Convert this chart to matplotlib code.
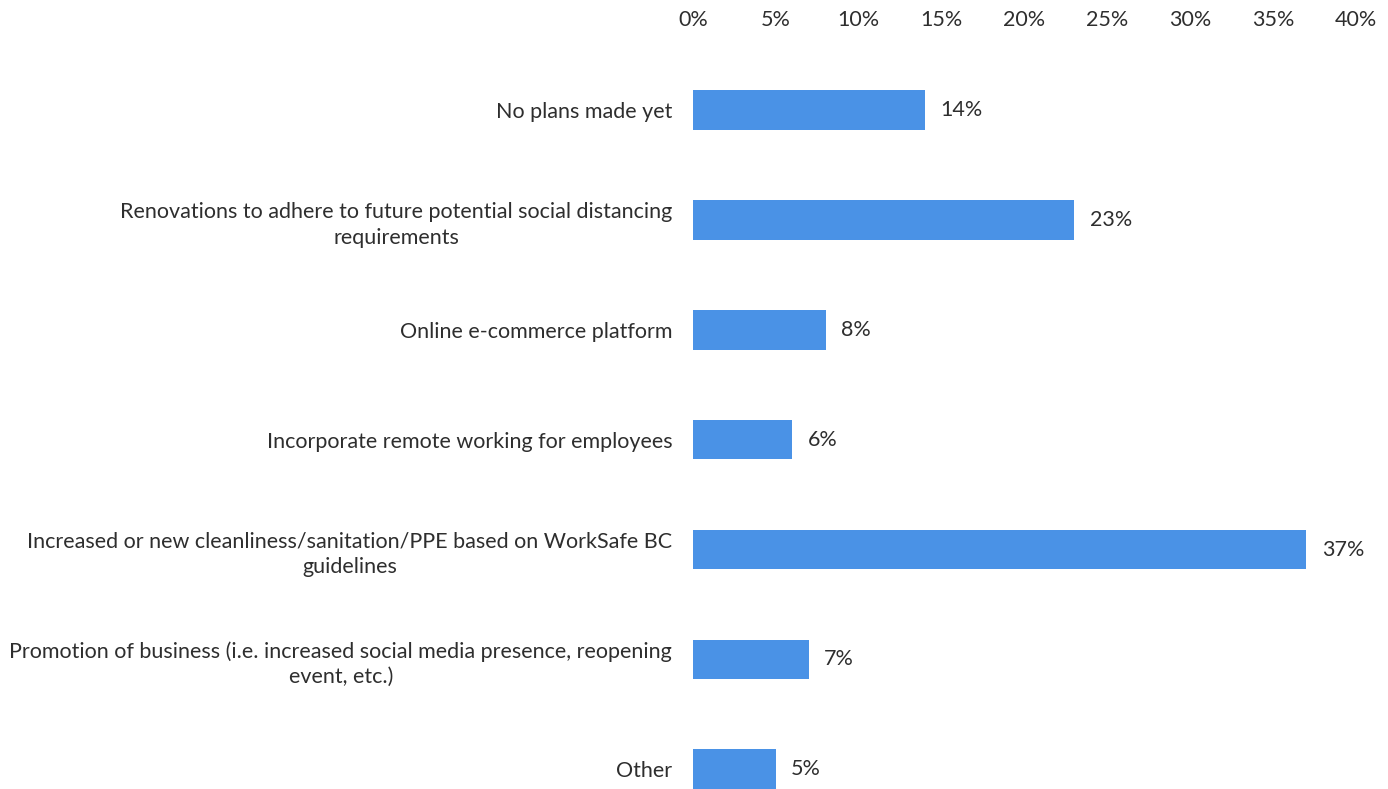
import matplotlib
matplotlib.use("Agg")
import matplotlib.pyplot as plt
from matplotlib.ticker import FuncFormatter, MultipleLocator

categories = [
    "No plans made yet",
    "Renovations to adhere to future potential social distancing\nrequirements",
    "Online e-commerce platform",
    "Incorporate remote working for employees",
    "Increased or new cleanliness/sanitation/PPE based on WorkSafe BC\nguidelines",
    "Promotion of business (i.e. increased social media presence, reopening\nevent, etc.)",
    "Other",
]
values = [14, 23, 8, 6, 37, 7, 5]

bar_color = "#4a92e6"
text_color = "#2e2e2e"
plt.rcParams["font.family"] = ["Lato", "DejaVu Sans"]
fs = 15.5

fig = plt.figure(figsize=(13.88, 7.89), dpi=100)
ax = fig.add_axes([0.4993, 0.0, 0.4777, 0.930])

ypos = list(range(len(categories)))
ax.barh(ypos, values, height=0.36, color=bar_color)

for y, v in zip(ypos, values):
    ax.annotate(f"{v}%", (v, y), xytext=(11, 0), textcoords="offset points",
                va="center", ha="left", fontsize=fs, color=text_color)

ax.set_xlim(0, 40)
ax.set_ylim(6.18, -0.5)
ax.xaxis.set_major_locator(MultipleLocator(5))
ax.xaxis.set_major_formatter(FuncFormatter(lambda x, _: f"{x:.0f}%"))
ax.xaxis.tick_top()
ax.tick_params(axis="x", length=0, pad=18, labelsize=fs, labelcolor=text_color)

ax.set_yticks(ypos)
ax.set_yticklabels(categories)
ax.tick_params(axis="y", length=0, pad=15, labelsize=fs, labelcolor=text_color)
for lbl in ax.get_yticklabels():
    lbl.set_multialignment("center")
    lbl.set_linespacing(1.35)

for s in ax.spines.values():
    s.set_visible(False)

fig.savefig("out.png", dpi=100, facecolor="white")
